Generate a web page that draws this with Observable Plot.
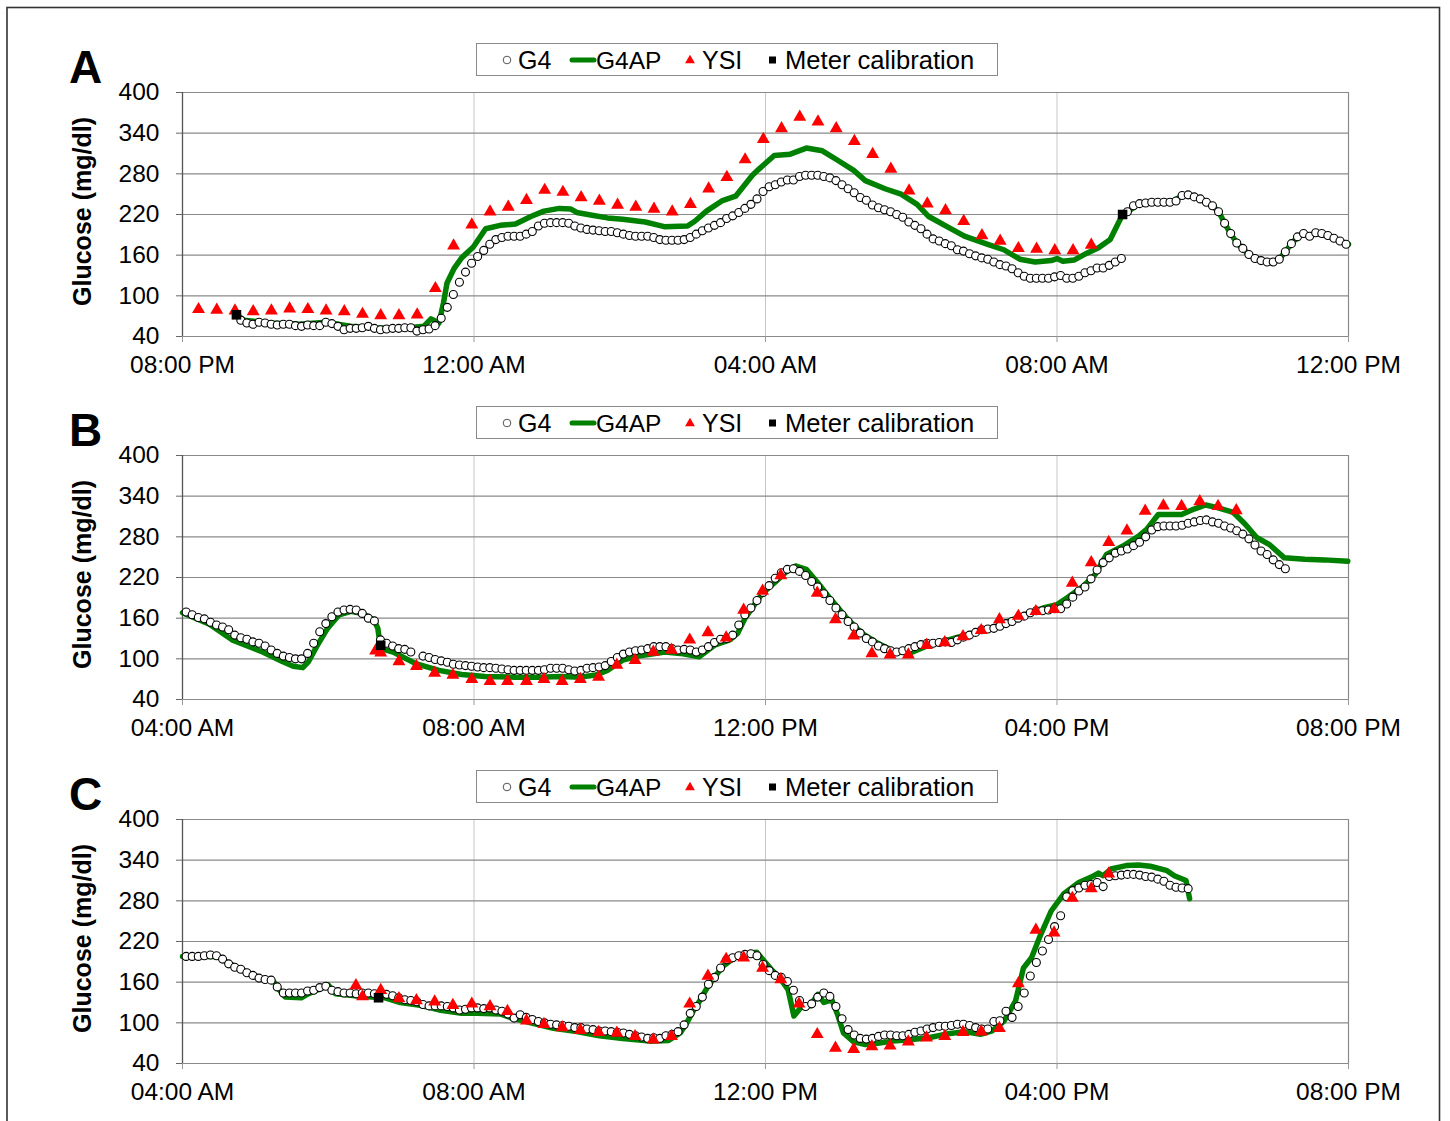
<!DOCTYPE html>
<html>
<head>
<meta charset="utf-8">
<script src="https://cdn.jsdelivr.net/npm/d3@7"></script>
<script src="https://cdn.jsdelivr.net/npm/@observablehq/plot@0.6"></script>
<style>
  body { margin: 0; background: #fff; font-family: "Liberation Sans", Arial, sans-serif; }
  #page { position: relative; width: 1450px; height: 1121px; overflow: hidden; background: #fff; }
  .panel { position: absolute; left: 0; }
  #decor { position: absolute; left: 0; top: 0; pointer-events: none; }
</style>
</head>
<body>
<div id="page">
  <div class="panel" id="pA" style="top:80px"></div>
  <div class="panel" id="pB" style="top:443px"></div>
  <div class="panel" id="pC" style="top:807px"></div>
  <svg id="decor" width="1450" height="1121"></svg>
</div>
<script>
// ---------------- shared ----------------
const yTicks = [40, 100, 160, 220, 280, 340, 400];
const yLabel = "Glucose (mg/dl)";
const legendItems = ["G4", "G4AP", "YSI", "Meter calibration"];
const panelLetters = ["A", "B", "C"];

// ---------------- Panel A (hours after 08:00 PM) ----------------
const A_ticks = ["08:00 PM", "12:00 AM", "04:00 AM", "08:00 AM", "12:00 PM"];
const A_g4Start = 0.8;           // first G4 reading, one reading every 5 minutes
const A_g4 = [
  64,60,58,61,60,58,57,58,58,56, 55,57,56,56,61,59,55,50,52,52,
  53,55,52,50,51,52,52,53,53,48, 50,51,56,67,83,102,120,135,148,158,
  167,176,183,186,188,188,188,191,195,203, 207,208,208,208,207,203,200,198,197,196,
  195,195,193,191,189,188,188,188,186,183, 182,182,182,183,186,191,196,200,204,208,
  214,218,223,229,235,243,254,261,264,268, 271,271,276,278,278,278,276,274,270,264,
  258,252,245,241,234,230,227,224,220,216, 209,204,199,191,184,181,177,174,168,166,
  162,159,156,154,150,146,144,140,134,129, 126,126,126,126,128,130,126,126,129,134,
  137,141,141,145,150,155,224,233,236,237, 238,238,238,238,240,248,249,246,243,238,
  233,224,207,192,178,170,161,155,152,150, 150,154,165,177,187,192,188,193,192,189,
  185,181,176
];
const A_ysiHours = [0.22,0.47,0.72,0.97,1.22,1.47,1.72,1.97,2.22,2.47,2.72,2.97,3.22,3.47,3.72,3.97,4.22,4.47,4.72,4.97,
  5.22,5.47,5.72,5.97,6.22,6.47,6.72,6.97,7.22,7.47,7.72,7.97,8.22,8.47,8.72,8.97,9.22,9.47,9.72,9.97,
  10.22,10.47,10.72,10.97,11.22,11.47,11.72,11.97,12.22,12.47];
const A_ysi = [80,79,78,77,78,81,80,78,77,73, 71,71,72,111,174,205,224,231,241,256,
  253,245,240,234,231,228,224,235,258,275, 301,331,347,364,357,347,328,309,287,255,
  236,226,210,189,181,170,169,167,167,175];
const A_apHours = [0.74,0.85,1.2,1.6,1.97,2.3,2.6,3.0,3.31,3.41, 3.52,3.58,3.63,3.73,3.83,3.99,4.16,4.36,4.57,4.78,
  4.96,5.17,5.33,5.41,5.62,5.83,6.04,6.35,6.54,6.61, 6.93,7.03,7.19,7.40,7.59,7.82,7.91,8.12,8.34,8.56,
  8.78,8.99,9.21,9.37,9.64,9.86,10.08,10.24,10.51,10.73, 11.05,11.27,11.49,11.70,11.92,12.0,12.08,12.24,12.41,12.57,
  12.73,12.9,12.97,13.1,13.3,13.6,13.72,13.85,14.0,14.13, 14.22,14.3,14.38,14.47,14.63,14.8,14.97,15.05,15.13,15.22,
  15.3,15.38,15.47,15.55,15.7,15.8,16.0];
const A_ap = [72,64,60,58,61,55,53,52,55,66, 60,89,119,141,156,172,199,204,206,217,
  225,229,228,223,219,215,213,209,204,202, 203,210,225,240,247,278,287,307,309,318,
  314,300,285,270,258,250,235,217,201,188, 176,168,154,150,152,155,151,153,163,171,
  183,220,224,234,238,240,248,248,242,233, 224,207,192,178,161,152,150,154,165,177,
  187,191,190,192,189,185,176];
const A_calHours = [0.74, 12.9];
const A_cal = [72, 220];

// ---------------- Panel B (hours after 04:00 AM) ----------------
const B_ticks = ["04:00 AM", "08:00 AM", "12:00 PM", "04:00 PM", "08:00 PM"];
const B_g4Start = 0.05;
const B_g4 = [
  169,165,161,159,154,150,147,143,135,131, 129,125,123,119,113,108,104,102,100,100,
  108,123,140,152,162,169,172,173,172,167, 160,156,128,123,119,115,114,110,null,104,
  102,99,97,95,92,91,90,89,88,87, 87,86,85,84,83,83,83,83,83,84,
  86,86,86,84,82,83,86,87,88,90, 96,102,107,110,112,113,115,118,118,118,
  115,113,114,113,110,113,118,124,129,130, 135,150,165,
  175,186,198,208,219,227,232,233,229,223, 214,206,196,186,175,165,155,147,138,130,
  125,119,115,112,110,112,115,118,121,123, 123,124,125,124,128,132,135,139,143,144,
  145,148,152,155,160,163,168,171,171,172, 174,174,181,191,200,206,218,231,242,249,
  256,259,262,267,272,280,290,295,296,296, 296,297,300,302,304,305,302,300,296,293,
  289,284,277,268,259,254,246,239,233
];
const B_ysiHours = [2.65,2.72,2.97,3.21,3.46,3.71,3.97,4.22,4.46,4.72, 4.96,5.21,5.46,5.71,5.96,6.21,6.46,6.71,6.96,7.21,
  7.46,7.70,7.96,8.21,8.71,8.96,9.21,9.46,9.71,9.96, 10.21,10.46,10.71,10.96,11.21,11.47,11.71,11.96,12.21,12.47,
  12.71,12.96,13.21,13.46,13.71,13.96,14.21,14.46];
const B_ysi = [112,109,96,89,79,76,70,67,67,67, 70,67,70,73,91,98,110,113,128,139,
  131,172,200,223,197,158,134,108,106,106, 120,124,133,142,158,163,170,173,212,242,
  272,289,318,326,325,332,325,319];
const B_apHours = [0,0.37,0.68,1.10,1.37,1.52,1.65,1.73,1.84,1.99, 2.15,2.31,2.47,2.63,2.68,2.72,2.89,3.20,3.52,3.83,
  4.15,4.57,4.88,5.20,5.46,5.67,5.83,6.04,6.30,6.62, 6.83,7.09,7.30,7.51,7.62,7.72,7.96,8.12,8.29,8.41,
  8.56,8.72,8.88,9.10,9.32,9.54,9.75,9.97,10.19,10.51, 10.84,11.16,11.49,11.81,12.0,12.14,12.36,12.52,12.68,12.90,
  13.12,13.23,13.39,13.55,13.71,13.88,14.04,14.20,14.42,14.58, 14.74,14.91,15.12,15.40,15.67,15.99];
const B_ap = [168,151,128,110,96,89,87,96,118,145, 165,170,167,157,145,115,110,93,83,77,
  74,73,73,74,73,76,83,98,105,110, 108,103,120,128,138,160,197,212,229,237,
  232,212,190,162,138,123,112,108,118,128, 138,148,162,175,180,190,207,224,254,266,
  281,291,313,313,313,321,327,323,316,299, 279,269,249,247,246,244];
const B_calHours = [2.72];
const B_cal = [120];

// ---------------- Panel C (hours after 04:00 AM) ----------------
const C_ticks = ["04:00 AM", "08:00 AM", "12:00 PM", "04:00 PM", "08:00 PM"];
const C_g4Start = 0.05;
const C_g4 = [
  198,198,198,199,200,199,194,187,182,179, 174,170,166,164,163,153,144,144,144,144,
  147,148,152,154,148,146,144,144,143,144, 144,143,143,142,140,137,134,133,131,127,
  125,125,125,124,122,119,120,122,122,121, 122,119,117,113,107,112,108,105,102,100,
  98,97,96,95,93,93,91,90,88,88, 87,86,85,83,81,79,77,78,77,81,
  83,87,97,114,124,138,157,167,181,193, 196,199,201,
  202,199,186,177,170,167,161, 148,133,124,128,138,144,139,124,106,90,
  82,77,76,77,80,82,82,81,81,83, 86,88,91,93,95,95,96,98,98,96,
  93,91,91,102,103,117,108,124,144,169, 189,206,223,242,258,286,295,299,303,304,
  307,301,316,317,318,319,319,318,316,315, 312,309,303,300,299,298
];
const C_ysiHours = [2.38,2.47,2.72,2.97,3.21,3.46,3.71,3.97,4.22,4.46, 4.72,4.96,5.21,5.46,5.71,5.96,6.21,6.46,6.71,6.96,
  7.21,7.46,7.70,7.96,8.21,8.46,8.71,8.96,9.21,9.46, 9.71,9.96,10.21,10.46,10.71,10.96,11.21,11.47,11.71,11.96,
  12.21,12.47,12.71];
const C_ysi = [155,139,148,136,133,131,126,128,124,117, 103,98,93,89,86,85,80,75,80,128,
  169,194,196,181,164,128,83,63,61,65, 66,72,78,80,86,87,92,158,237,233,
  284,298,320];
const C_apHours = [0,0.5,0.6,0.9,1.1,1.25,1.32,1.41,1.63,1.73, 1.91,2.0,2.10,2.47,2.78,2.99,3.26,3.52,3.83,4.04,
  4.36,4.52,4.78,5.09,5.41,5.72,6.04,6.41,6.67,6.83, 6.92,7.0,7.1,7.2,7.3,7.41,7.56,7.72,7.88,8.07,
  8.21,8.31,8.39,8.48,8.61,8.72,8.80,8.91,8.99,9.07, 9.21,9.37,9.54,9.75,9.97,10.24,10.51,10.73,10.95,11.11,
  11.27,11.43,11.54,11.65,11.76,11.92,12.09,12.30,12.47,12.57, 12.63,12.74,12.95,13.12,13.28,13.50,13.61,13.77,13.82];
const C_ap = [198,198,190,174,165,161,150,138,137,143, 151,156,143,139,137,130,126,119,114,114,
  113,107,100,92,87,81,77,73,74,85, 100,116,133,152,167,183,195,202,204,180,
  164,149,110,122,125,142,130,134,112,85, 72,68,70,73,75,78,84,87,83,88,
  102,132,181,196,226,265,290,307,315,321, 317,327,332,333,331,325,317,310,283];
const C_calHours = [2.69];
const C_cal = [137];

// ---------------- drawing ----------------
const FONT = "'Liberation Sans', Arial, Helvetica, sans-serif";
const GREEN = "#008000";

function panel(ticks, g4Start, g4, ysiH, ysi, apH, ap, calH, cal) {
  const g4Data = g4.map((v, i) => ({t: g4Start + i * 5 / 60, v}));
  const ysiData = ysiH.map((t, i) => ({t, v: ysi[i]}));
  const apData = apH.map((t, i) => ({t, v: ap[i]}));
  const calData = calH.map((t, i) => ({t, v: cal[i]}));
  const xTicks = ticks.map((_, i) => i * 4);
  return Plot.plot({
    width: 1450, height: 296,
    marginLeft: 182, marginRight: 102, marginTop: 12, marginBottom: 40,
    style: {fontFamily: FONT, fontSize: "24px", color: "#000", background: "transparent", overflow: "visible"},
    x: {domain: [0, 16]},
    y: {domain: [40, 400]},
    marks: [
      Plot.gridX([4, 8, 12], {stroke: "#c6c6c6", strokeOpacity: 1, strokeWidth: 1}),
      Plot.gridY(yTicks, {stroke: "#8a8a8a", strokeOpacity: 1, strokeWidth: 1.2}),
      Plot.ruleX([16], {stroke: "#8a8a8a", strokeWidth: 1.2}),
      Plot.ruleX([0], {stroke: "#555", strokeWidth: 1.3}),
      Plot.axisY(yTicks, {tickSize: 6, tickPadding: 17, fontSize: 24.5, label: null, stroke: "#666"}),
      Plot.axisX(xTicks, {tickSize: 6, tickPadding: 13, fontSize: 24.5, label: null, stroke: "#999",
        tickFormat: d => ticks[Math.round(d / 4)]}),
      Plot.line(apData, {x: "t", y: "v", stroke: GREEN, strokeWidth: 5.5, strokeLinejoin: "round", strokeLinecap: "round"}),
      Plot.dot(g4Data, {x: "t", y: "v", r: 4, fill: "white", stroke: "black", strokeWidth: 1.1}),
      Plot.dot(ysiData, {x: "t", y: "v", symbol: "triangle", r: 4.8, fill: "red", stroke: "none"}),
      Plot.dot(calData, {x: "t", y: "v", symbol: "square", r: 5.4, fill: "black", stroke: "none"}),
      Plot.text([yLabel], {frameAnchor: "left", dx: -100, dy: -3, rotate: -90, textAnchor: "middle", lineAnchor: "middle",
        fontSize: 25, fontWeight: "bold", fill: "#000"})
    ]
  });
}

document.getElementById("pA").appendChild(panel(A_ticks, A_g4Start, A_g4, A_ysiHours, A_ysi, A_apHours, A_ap, A_calHours, A_cal));
document.getElementById("pB").appendChild(panel(B_ticks, B_g4Start, B_g4, B_ysiHours, B_ysi, B_apHours, B_ap, B_calHours, B_cal));
document.getElementById("pC").appendChild(panel(C_ticks, C_g4Start, C_g4, C_ysiHours, C_ysi, C_apHours, C_ap, C_calHours, C_cal));

// frame, panel letters and legends
const decor = d3.select("#decor");
decor.append("rect").attr("x", 7).attr("y", 7.5).attr("width", 1432.5).attr("height", 1130)
  .attr("fill", "none").attr("stroke", "#333").attr("stroke-width", 1.6);
const legendTops = [43, 406, 770];
const letterBase = [83, 446, 810];
panelLetters.forEach((L, k) => {
  decor.append("text").attr("x", 69).attr("y", letterBase[k]).text(L)
    .attr("font-family", FONT).attr("font-weight", "bold").attr("font-size", 46).attr("fill", "#000");
  const g = decor.append("g").attr("transform", `translate(476,${legendTops[k]})`);
  g.append("rect").attr("x", 0.5).attr("y", 0.5).attr("width", 521).attr("height", 32)
    .attr("fill", "#fff").attr("stroke", "#8a8a8a").attr("stroke-width", 1);
  const cy = 17;
  g.append("circle").attr("cx", 31).attr("cy", cy).attr("r", 3.8).attr("fill", "#fff").attr("stroke", "#555").attr("stroke-width", 1);
  g.append("line").attr("x1", 96).attr("x2", 118).attr("y1", cy).attr("y2", cy)
    .attr("stroke", GREEN).attr("stroke-width", 5).attr("stroke-linecap", "round");
  g.append("path").attr("d", d3.symbol(d3.symbolTriangle, 42)()).attr("transform", `translate(214,${cy + 0.5})`).attr("fill", "red");
  g.append("rect").attr("x", 293).attr("y", cy - 3.5).attr("width", 7).attr("height", 7).attr("fill", "#000");
  const xs = [42, 120, 226, 309];
  const sizes = [25, 24.5, 25, 25.6];
  legendItems.forEach((txt, i) => {
    g.append("text").attr("x", xs[i]).attr("y", cy + 9).text(txt)
      .attr("font-family", FONT).attr("font-size", sizes[i]).attr("fill", "#000");
  });
});
</script>
</body>
</html>
